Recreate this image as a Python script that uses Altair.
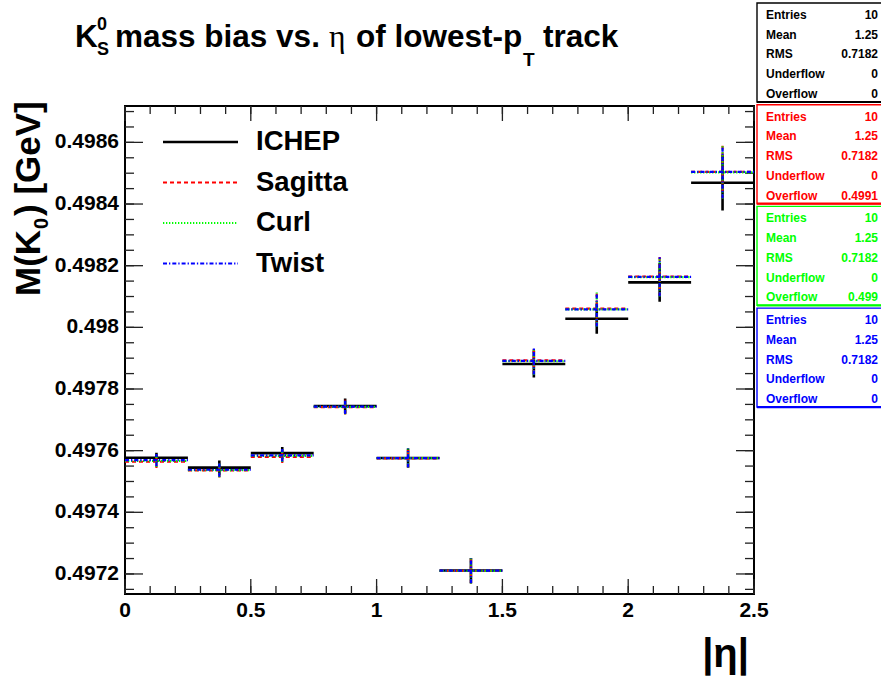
import altair as alt
import pandas as pd

# |eta| bins of the lowest-pT track
bin_lo = [0.0, 0.25, 0.5, 0.75, 1.0, 1.25, 1.5, 1.75, 2.0, 2.25]
bin_hi = [0.25, 0.5, 0.75, 1.0, 1.25, 1.5, 1.75, 2.0, 2.25, 2.5]

# fitted K0S mass per bin [GeV] and its uncertainty
mass_ichep = [0.497577, 0.497545, 0.497592, 0.497745, 0.497576, 0.497211, 0.497881, 0.498028, 0.498146, 0.498469]
mass_sagitta = [0.497564, 0.497536, 0.497580, 0.497741, 0.497575, 0.497210, 0.497893, 0.498061, 0.498165, 0.498504]
mass_curl = [0.497567, 0.497537, 0.497583, 0.497742, 0.497576, 0.497210, 0.497890, 0.498058, 0.498163, 0.498503]
mass_twist = [0.497569, 0.497538, 0.497585, 0.497743, 0.497576, 0.497211, 0.497891, 0.498058, 0.498164, 0.498504]

err_ichep = [1.6e-5, 2.3e-5, 2.0e-5, 2.4e-5, 3.1e-5, 4.1e-5, 4.4e-5, 4.9e-5, 6.3e-5, 9.0e-5]
err_sagitta = [2.0e-5, 2.3e-5, 2.0e-5, 2.4e-5, 3.1e-5, 4.1e-5, 4.4e-5, 5.5e-5, 6.3e-5, 8.5e-5]
err_curl = [2.0e-5, 2.3e-5, 2.0e-5, 2.4e-5, 3.1e-5, 4.1e-5, 4.4e-5, 5.5e-5, 6.3e-5, 8.5e-5]
err_twist = [2.0e-5, 2.3e-5, 2.0e-5, 2.4e-5, 3.1e-5, 4.1e-5, 4.4e-5, 5.5e-5, 6.3e-5, 8.5e-5]

series_names = ["ICHEP", "Sagitta", "Curl", "Twist"]
series_mass = [mass_ichep, mass_sagitta, mass_curl, mass_twist]
series_err = [err_ichep, err_sagitta, err_curl, err_twist]

# statistics boxes
stat_labels = ["Entries", "Mean", "RMS", "Underflow", "Overflow"]
stats_ichep = ["10", "1.25", "0.7182", "0", "0"]
stats_sagitta = ["10", "1.25", "0.7182", "0", "0.4991"]
stats_curl = ["10", "1.25", "0.7182", "0", "0.499"]
stats_twist = ["10", "1.25", "0.7182", "0", "0"]
series_stats = [stats_ichep, stats_sagitta, stats_curl, stats_twist]

# axis ticks
x_major = [0.0, 0.5, 1.0, 1.5, 2.0, 2.5]
x_minor = [round(0.1 * i, 2) for i in range(26)]
y_major = [0.4972, 0.4974, 0.4976, 0.4978, 0.498, 0.4982, 0.4984, 0.4986]
y_minor = [round(0.49715 + 0.00005 * i, 5) for i in range(32)]

# drawing styles
COLORS = ["#000000", "#ff0000", "#00ff00", "#0000ff"]
DASHES = [[1, 0], [4, 3], [1.3, 1.7], [4, 2, 1.3, 2]]
WIDTHS = [2.6, 2.2, 2.2, 2.2]
FONT = "Liberation Sans"

W, H = 629, 488
xscale = alt.Scale(domain=[0, 2.5], nice=False, zero=False)
yscale = alt.Scale(domain=[0.497135, 0.498718], nice=False, zero=False)

layers = []

# ---- ROOT-style inward ticks on all four sides
xmaj = pd.DataFrame({"v": x_major})
xmin = pd.DataFrame({"v": x_minor})
ymaj = pd.DataFrame({"v": y_major})
ymin = pd.DataFrame({"v": [v for v in y_minor if 0.497135 < v < 0.498718]})
tick_style = dict(color="#222222", strokeWidth=1.3)

for y0, y1 in [(H, H - 15), (0, 15)]:
    layers.append(alt.Chart(xmaj).mark_rule(**tick_style).encode(
        x=alt.X("v:Q", scale=xscale, axis=None), y=alt.value(y0), y2=alt.value(y1)))
for y0, y1 in [(H, H - 8), (0, 8)]:
    layers.append(alt.Chart(xmin).mark_rule(**tick_style).encode(
        x=alt.X("v:Q", scale=xscale, axis=None), y=alt.value(y0), y2=alt.value(y1)))
for x0, x1 in [(0, 18), (W - 18, W)]:
    layers.append(alt.Chart(ymaj).mark_rule(**tick_style).encode(
        y=alt.Y("v:Q", scale=yscale, axis=None), x=alt.value(x0), x2=alt.value(x1)))
for x0, x1 in [(0, 9), (W - 9, W)]:
    layers.append(alt.Chart(ymin).mark_rule(**tick_style).encode(
        y=alt.Y("v:Q", scale=yscale, axis=None), x=alt.value(x0), x2=alt.value(x1)))

# tick labels
layers.append(alt.Chart(xmaj).transform_calculate(lab="format(datum.v, '~g')").mark_text(
    font=FONT, fontWeight="bold", fontSize=21, align="center", baseline="top", color="black"
).encode(x=alt.X("v:Q", scale=xscale, axis=None), y=alt.value(H + 6), text="lab:N"))
layers.append(alt.Chart(ymaj).transform_calculate(lab="format(datum.v, '.4~f')").mark_text(
    font=FONT, fontWeight="bold", fontSize=21, align="right", baseline="middle", color="black"
).encode(y=alt.Y("v:Q", scale=yscale, axis=None), x=alt.value(-6), text="lab:N"))

# ---- histograms: bin-width bar plus vertical error bar
for i, name in enumerate(series_names):
    df = pd.DataFrame({"lo": bin_lo, "hi": bin_hi, "m": series_mass[i], "e": series_err[i]})
    style = dict(color=COLORS[i], strokeWidth=WIDTHS[i], strokeDash=DASHES[i])
    base = alt.Chart(df)
    layers.append(base.mark_rule(**style).encode(
        x=alt.X("lo:Q", scale=xscale, axis=None), x2="hi:Q",
        y=alt.Y("m:Q", scale=yscale, axis=None)))
    layers.append(base.transform_calculate(
        mid="(datum.lo + datum.hi) / 2", dn="datum.m - datum.e", up="datum.m + datum.e"
    ).mark_rule(**style).encode(
        x=alt.X("mid:Q", scale=xscale, axis=None),
        y=alt.Y("dn:Q", scale=yscale, axis=None), y2="up:Q"))

# ---- legend
for i, name in enumerate(series_names):
    ldf = pd.DataFrame({"label": [name], "idx": [i]})
    lb = alt.Chart(ldf).transform_calculate(py="36 + datum.idx * 40.5")
    layers.append(lb.mark_rule(color=COLORS[i], strokeWidth=WIDTHS[i], strokeDash=DASHES[i]).encode(
        x=alt.value(38), x2=alt.value(113), y=alt.Y("py:Q", scale=None)))
    layers.append(lb.mark_text(font=FONT, fontWeight="bold", fontSize=27.5, align="left",
                               baseline="middle", color="black").encode(
        x=alt.value(131), y=alt.Y("py:Q", scale=None), text="label:N"))


def label(text, x, y, size, weight="bold", font=FONT, angle=0, align="left", baseline="alphabetic",
          color="black"):
    return alt.Chart(pd.DataFrame({"t": [text]})).mark_text(
        font=font, fontWeight=weight, fontSize=size, align=align, baseline=baseline,
        angle=angle, color=color).encode(x=alt.value(x), y=alt.value(y), text="t:N")


# ---- title: K0S mass bias vs. eta of lowest-pT track (positions relative to the plot origin)
layers += [
    label("K", -50, -59, 31.5),
    label("0", -28, -76, 18),
    label("S", -28, -51, 18),
    label("mass bias vs.", -10, -59, 31.5),
    label("η", 204, -59, 31.5, weight="normal", font="Liberation Serif"),
    label("of lowest-p", 231, -59, 31.5),
    label("T", 398, -40, 19),
    label("track", 418, -59, 31.5),
]

# ---- axis titles
layers += [
    label("M(K", -85, 190, 35, angle=270),
    label("0", -77, 123, 20, angle=270),
    label(") [GeV]", -85, 110, 35, angle=270),
    label("|η|", 624, 561, 40, align="right"),
]

# ---- statistics boxes on the right
for b, name in enumerate(series_names):
    bdf = pd.DataFrame({"box": [b]})
    box = alt.Chart(bdf).transform_calculate(
        top="datum.box * 101.7 - 103", bot="datum.box * 101.7 - 4")
    layers.append(box.mark_rect(fill="white", stroke=COLORS[b], strokeWidth=1.4).encode(
        x=alt.value(632), x2=alt.value(770),
        y=alt.Y("top:Q", scale=None), y2="bot:Q"))
    layers.append(box.mark_rule(color=COLORS[b], strokeWidth=2.2).encode(
        x=alt.value(632), x2=alt.value(770), y=alt.Y("bot:Q", scale=None)))
    sdf = pd.DataFrame({"row": list(range(5)), "name": stat_labels, "val": series_stats[b]})
    sb = alt.Chart(sdf).transform_calculate(py=f"{b} * 101.7 + datum.row * 19.7 - 91")
    layers.append(sb.mark_text(font=FONT, fontWeight="bold", fontSize=12, align="left",
                               baseline="middle", color=COLORS[b]).encode(
        x=alt.value(641), y=alt.Y("py:Q", scale=None), text="name:N"))
    layers.append(sb.mark_text(font=FONT, fontWeight="bold", fontSize=12, align="right",
                               baseline="middle", color=COLORS[b]).encode(
        x=alt.value(753), y=alt.Y("py:Q", scale=None), text="val:N"))

chart = alt.layer(*layers).properties(
    width=W, height=H,
    padding={"left": 125, "top": 106, "right": 127, "bottom": 83},
    autosize=alt.AutoSizeParams(type="none"),
    background="white",
).configure_view(stroke="black", strokeWidth=2)

chart.save("out.html", embed_options={"renderer": "svg", "actions": False})
